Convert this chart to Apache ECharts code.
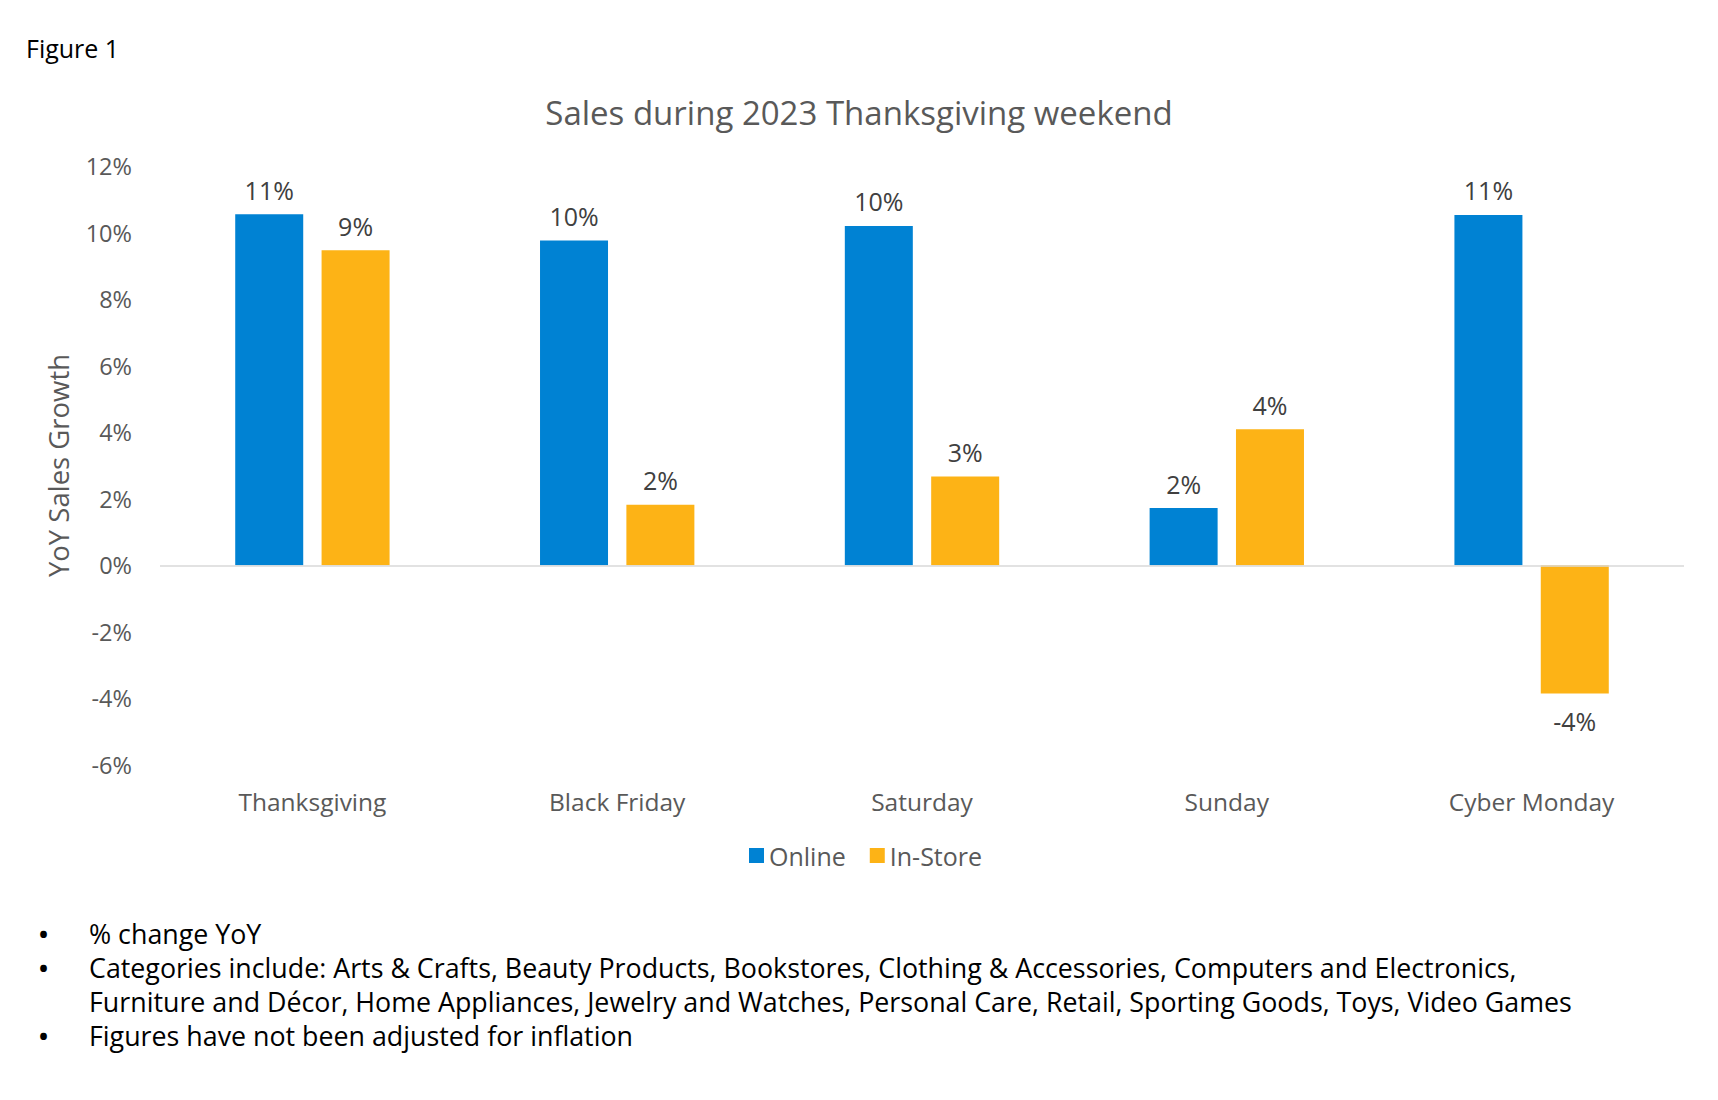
<!DOCTYPE html>
<html>
<head>
<meta charset="utf-8">
<script src="https://cdn.jsdelivr.net/npm/echarts@6/dist/echarts.min.js"></script>
<style>
html,body{margin:0;padding:0;background:#fff;}
#chart{width:1718px;height:1100px;}
</style>
</head>
<body>
<div id="chart"></div>
<script>
const categories = ['Thanksgiving', 'Black Friday', 'Saturday', 'Sunday', 'Cyber Monday'];
const onlineValues = [10.55, 9.76, 10.2, 1.72, 10.53];
const inStoreValues = [9.47, 1.82, 2.67, 4.09, -3.85];
const seriesNames = ['Online', 'In-Store'];
const yTicks = { min: -6, max: 12, step: 2 };
const titleText = 'Sales during 2023 Thanksgiving weekend';
const yAxisTitle = 'YoY Sales Growth';
const figureLabel = 'Figure 1';
const notes = [
  ['% change YoY'],
  ['Categories include: Arts & Crafts, Beauty Products, Bookstores, Clothing & Accessories, Computers and Electronics,',
   'Furniture and Décor, Home Appliances, Jewelry and Watches, Personal Care, Retail, Sporting Goods, Toys, Video Games'],
  ['Figures have not been adjusted for inflation']
];

const FONT = '"Open Sans", "Noto Sans", sans-serif';
const chart = echarts.init(document.getElementById('chart'), null, { renderer: 'svg' });

const graphics = [{
  type: 'text', left: 26, top: 35,
  style: { text: figureLabel, font: '25px ' + FONT, fill: '#000' }
}];
let lineIdx = 0;
const lineTop0 = 920, lineStep = 34;
notes.forEach(function (note) {
  graphics.push({
    type: 'text', left: 39, top: lineTop0 + lineIdx * lineStep + 1,
    style: { text: '•', font: 'bold 24px ' + FONT, fill: '#000' }
  });
  note.forEach(function (line) {
    graphics.push({
      type: 'text', left: 89, top: lineTop0 + lineIdx * lineStep,
      style: { text: line, font: '26.8px ' + FONT, fill: '#000' }
    });
    lineIdx++;
  });
});

function makeLabel(v) {
  const neg = v < 0;
  return {
    show: true, position: neg ? 'bottom' : 'top', distance: neg ? 15 : 12,
    color: '#404040', fontSize: 25, fontFamily: FONT,
    formatter: function (p) { return Math.round(p.value) + '%'; }
  };
}
function toItems(arr) {
  return arr.map(function (v) { return { value: v, label: makeLabel(v) }; });
}

chart.setOption({
  animation: false,
  backgroundColor: '#fff',
  title: {
    text: titleText, left: 'center', top: 91,
    textStyle: { color: '#595959', fontSize: 33, fontWeight: 'normal', fontFamily: FONT }
  },
  legend: {
    data: seriesNames, left: 744, top: 838,
    icon: 'rect', itemWidth: 15, itemHeight: 15, itemGap: 24,
    textStyle: { color: '#595959', fontSize: 25, fontFamily: FONT }
  },
  grid: { left: 160, right: 34, top: 166, bottom: 335, containLabel: false },
  xAxis: {
    type: 'category', data: categories,
    axisLine: { show: false, onZero: false }, axisTick: { show: false },
    axisLabel: { color: '#595959', fontSize: 24.5, fontFamily: FONT, margin: 24 }
  },
  yAxis: {
    type: 'value', min: yTicks.min, max: yTicks.max, interval: yTicks.step,
    name: yAxisTitle, nameLocation: 'middle', nameGap: 88, nameRotate: 90,
    nameTextStyle: { color: '#595959', fontSize: 27.5, fontFamily: FONT },
    axisLine: { show: false }, axisTick: { show: false }, splitLine: { show: false },
    axisLabel: { color: '#595959', fontSize: 23.5, fontFamily: FONT, margin: 28, formatter: '{value}%' }
  },
  series: [
    {
      name: seriesNames[0], type: 'bar', data: toItems(onlineValues),
      barWidth: 68, barGap: '27%',
      itemStyle: { color: '#0082D3' },
      markLine: {
        silent: true, symbol: ['none', 'none'],
        label: { show: false },
        lineStyle: { color: '#d9d9d9', width: 1.5, type: 'solid' },
        data: [{ yAxis: 0 }]
      }
    },
    {
      name: seriesNames[1], type: 'bar', data: toItems(inStoreValues),
      barWidth: 68,
      itemStyle: { color: '#FDB316' }
    }
  ],
  graphic: graphics
});
</script>
</body>
</html>
